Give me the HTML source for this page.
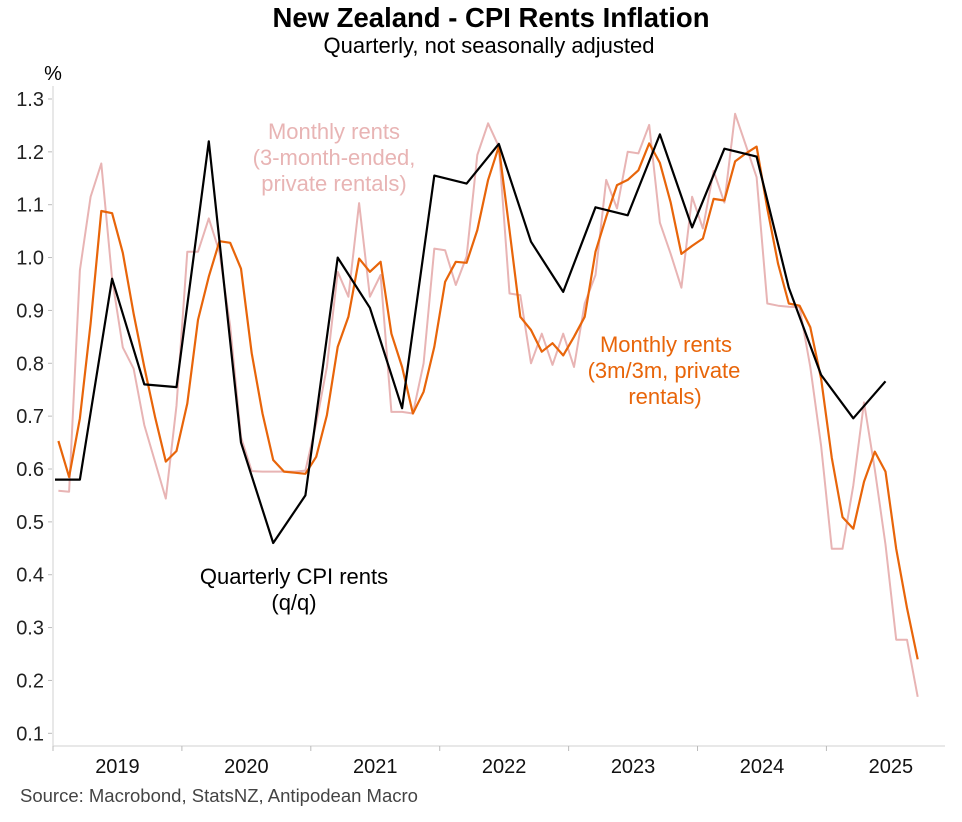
<!DOCTYPE html>
<html><head><meta charset="utf-8"><style>
html,body{margin:0;padding:0;background:#fff;}
svg{display:block;font-family:"Liberation Sans",Arial,sans-serif;}
</style></head><body>
<svg id="chart" width="962" height="822" viewBox="0 0 962 822">
<text x="491" y="27" text-anchor="middle" font-size="27.5" font-weight="bold">New Zealand - CPI Rents Inflation</text>
<text x="489" y="53" text-anchor="middle" font-size="22">Quarterly, not seasonally adjusted</text>
<text x="53" y="80" text-anchor="middle" font-size="20">%</text>
<g id="axes"></g>
<g id="series" clip-path="url(#clip)"></g>
<defs><clipPath id="clip"><rect x="55" y="80" width="900" height="665"/></clipPath></defs>
<text font-size="22" fill="#e8b4b4" text-anchor="middle"><tspan x="334" y="139">Monthly rents</tspan><tspan x="334" y="165">(3-month-ended,</tspan><tspan x="334" y="191">private rentals)</tspan></text>
<text font-size="22" fill="#e8650a" text-anchor="middle"><tspan x="666" y="352">Monthly rents</tspan><tspan x="664" y="378">(3m/3m, private</tspan><tspan x="665" y="404">rentals)</tspan></text>
<text font-size="22" fill="#000" text-anchor="middle"><tspan x="294" y="584">Quarterly CPI rents</tspan><tspan x="294" y="610">(q/q)</tspan></text>
<text x="20" y="802" font-size="18.5" fill="#444">Source: Macrobond, StatsNZ, Antipodean Macro</text>
</svg>
<script>
const yTicks = [0.1,0.2,0.3,0.4,0.5,0.6,0.7,0.8,0.9,1.0,1.1,1.2,1.3];
const years = ["2019","2020","2021","2022","2023","2024","2025"];
// month index 0 = Jan 2019
const quarterMonths = [-1,2,5,8,11,14,17,20,23,26,29,32,35,38,41,44,47,50,53,56,59,62,65,68,71,74,77];
const quarterlyCPI = [0.58,0.58,0.96,0.76,0.755,1.22,0.65,0.46,0.55,1.0,0.905,0.715,1.155,1.14,1.215,1.03,0.935,1.095,1.08,1.233,1.057,1.206,1.191,0.943,0.778,0.696,0.766];
const monthly3m3m = [0.653,0.585,0.696,0.875,1.088,1.084,1.009,0.894,0.793,0.699,0.614,0.634,0.724,0.882,0.964,1.031,1.028,0.979,0.819,0.705,0.617,0.595,0.593,0.591,0.623,0.702,0.831,0.888,0.998,0.973,0.992,0.856,0.793,0.705,0.746,0.831,0.954,0.992,0.990,1.052,1.147,1.210,1.052,0.888,0.863,0.822,0.838,0.815,0.850,0.888,1.011,1.077,1.137,1.147,1.165,1.216,1.179,1.104,1.007,1.022,1.036,1.111,1.108,1.182,1.197,1.210,1.093,0.988,0.913,0.909,0.868,0.771,0.621,0.509,0.487,0.576,0.633,0.595,0.449,0.337,0.240];
const monthly3me = [0.559,0.557,0.976,1.115,1.178,0.96,0.83,0.79,0.683,0.614,0.544,0.72,1.011,1.011,1.074,1.01,0.87,0.66,0.596,0.595,0.595,0.595,0.595,0.597,0.686,0.793,0.973,0.926,1.103,0.926,0.967,0.708,0.708,0.705,0.800,1.017,1.014,0.948,1.002,1.194,1.254,1.210,0.932,0.929,0.800,0.856,0.797,0.856,0.793,0.913,0.967,1.147,1.093,1.200,1.197,1.251,1.066,1.007,0.943,1.115,1.055,1.164,1.104,1.272,1.212,1.152,0.913,0.909,0.907,0.906,0.793,0.644,0.449,0.449,0.569,0.726,0.599,0.457,0.277,0.277,0.169];

const X0 = 53, MW = 10.742;
const xM = m => X0 + (m + 0.5) * MW;
const yV = v => 733.3 - (v - 0.1) * 528.6;
const NS = "http://www.w3.org/2000/svg";
const axes = document.getElementById('axes');
const series = document.getElementById('series');
function mk(tag, attrs, parent){const e=document.createElementNS(NS,tag);for(const k in attrs)e.setAttribute(k,attrs[k]);parent.appendChild(e);return e;}

const yl = mk('line',{x1:53,y1:86,x2:53,y2:746,stroke:'#d9d9d9','stroke-width':1.2},axes);


const xl = mk('line',{x1:53,y1:746,x2:945,y2:746,stroke:'#d9d9d9','stroke-width':1.2},axes);


yTicks.forEach(v=>{
  const t = mk('line',{x1:48,y1:yV(v),x2:52,y2:yV(v),stroke:'#bbb','stroke-width':1},axes);
  
  
  const l = mk('text',{x:44,y:yV(v)+7,'text-anchor':'end','font-size':20,fill:'#222'},axes);
  l.textContent = v.toFixed(1);
  
  
});
years.forEach((y,i)=>{
  const xs = X0 + i*12*MW;
  const t = mk('line',{x1:xs,y1:746,x2:xs,y2:751,stroke:'#bbb','stroke-width':1},axes);
  
  
  const l = mk('text',{x:xs+6*MW,y:773,'text-anchor':'middle','font-size':20,fill:'#111'},axes);
  l.textContent = y;
  
  
});
function path(ms, vs, color, w, name){
  const d = vs.map((v,i)=>(i?'L':'M')+xM(ms[i]).toFixed(1)+','+yV(v).toFixed(1)).join(' ');
  const p = mk('path',{d:d,fill:'none',stroke:color,'stroke-width':w,'stroke-linejoin':'round'},series);
  
  
}
const idx = monthly3me.map((_,i)=>i);
path(idx, monthly3me, '#e8b4b4', 2, 'monthly-3-month-ended-line');
path(monthly3m3m.map((_,i)=>i), monthly3m3m, '#e8650a', 2.2, 'monthly-3m3m-line');
path(quarterMonths, quarterlyCPI, '#000', 2.2, 'quarterly-cpi-line');
</script>
</body></html>
